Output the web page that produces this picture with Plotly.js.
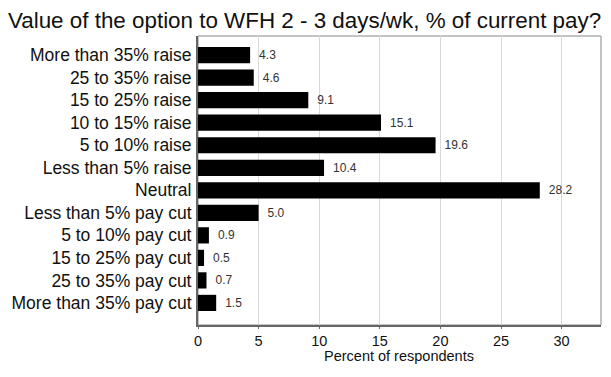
<!DOCTYPE html>
<html><head><meta charset="utf-8">
<script src="https://cdn.plot.ly/plotly-3.0.1.min.js"></script>
<style>html,body{margin:0;padding:0;background:#fff}#c{width:611px;height:377px}</style>
</head><body><div id="c"></div>
<script>
var categories = ["More than 35% raise","25 to 35% raise","15 to 25% raise","10 to 15% raise","5 to 10% raise","Less than 5% raise","Neutral","Less than 5% pay cut","5 to 10% pay cut","15 to 25% pay cut","25 to 35% pay cut","More than 35% pay cut"];
var values = [4.3, 4.6, 9.1, 15.1, 19.6, 10.4, 28.2, 5.0, 0.9, 0.5, 0.7, 1.5];
var xTicks = [0, 5, 10, 15, 20, 25, 30];

var trace = {
  type: 'bar', orientation: 'h',
  x: values, y: categories,
  marker: {color: '#000', line: {width: 0}},
  width: 0.72,
  text: values.map(function(v){return '\u2002' + v.toFixed(1);}),
  textposition: 'outside',
  textfont: {family: 'Liberation Sans, Arial, sans-serif', size: 12, color: '#333'},
  cliponaxis: false,
  hoverinfo: 'none'
};
var layout = {
  width: 611, height: 377,
  margin: {l: 198, r: 10, t: 36, b: 52},
  paper_bgcolor: '#fff', plot_bgcolor: '#fff',
  showlegend: false,
  font: {family: 'Liberation Sans, Arial, sans-serif', color: '#000'},
  title: {text: 'Value of the option to WFH 2 - 3 days/wk, % of current pay?', x: 0.013, xanchor: 'left', y: 0.947, yanchor: 'middle', font: {size: 22.4, color: '#111'}},
  xaxis: {
    range: [0, 33.25], tickvals: xTicks, ticktext: xTicks.map(String),
    showgrid: true, gridcolor: '#d9d9d9', gridwidth: 1, zeroline: false,
    showline: true, linecolor: '#666', linewidth: 2,
    ticks: 'outside', ticklen: 2, tickcolor: '#666',
    tickfont: {size: 14.5, color: '#111'}
  },
  yaxis: {
    type: 'category', categoryorder: 'array', categoryarray: categories,
    autorange: false, range: [11.98, -0.85],
    showgrid: false, zeroline: false,
    showline: true, linecolor: '#666', linewidth: 2,
    ticks: '', ticklabelstandoff: 1,
    tickfont: {size: 17.5, color: '#111'}
  },
  annotations: [{text: 'Percent of respondents', xref: 'x', yref: 'paper', x: 16.6, y: -0.107, xanchor: 'center', yanchor: 'middle', showarrow: false, font: {size: 14.5, color: '#111'}}],
  shapes: [{type: 'rect', xref: 'paper', yref: 'paper', x0: 0, x1: 1, y0: 0, y1: 1, line: {color: '#888', width: 1}, fillcolor: 'rgba(0,0,0,0)', layer: 'below'}]
};
Plotly.newPlot('c', [trace], layout, {displayModeBar: false, staticPlot: true});
</script></body></html>
